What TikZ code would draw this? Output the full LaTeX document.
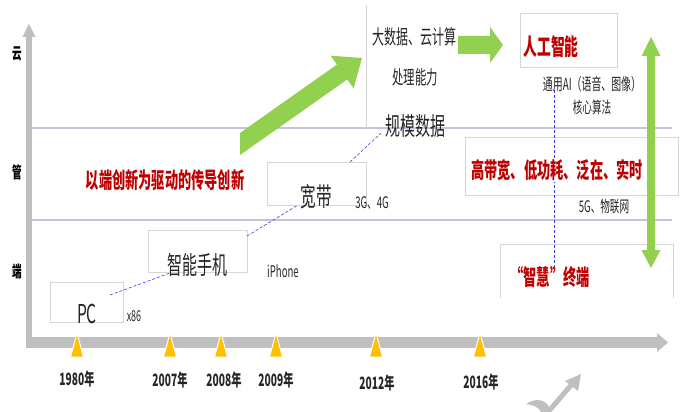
\documentclass[tikz,border=0pt]{standalone}
\usepackage{fontspec}
\setmainfont{Noto Sans CJK SC}[FakeStretch=0.6]
\newcommand{\Fz}[1]{\fontsize{#1}{#1}\selectfont}
\definecolor{axisgray}{HTML}{BFBFBF}
\definecolor{gridlav}{HTML}{C4C4DA}
\definecolor{boxgray}{HTML}{D6D6D6}
\definecolor{dashblue}{HTML}{3A3AF0}
\definecolor{darkred}{HTML}{C00000}
\definecolor{leafgreen}{HTML}{92D050}
\definecolor{triyellow}{HTML}{FFC000}
\definecolor{txtgray}{HTML}{262626}
\begin{document}
\begin{tikzpicture}[x=1pt,y=-1pt,
  box/.style={draw=boxgray, line width=0.7pt},
  conn/.style={draw=dashblue, densely dashed, line width=0.6pt},
  txt/.style={inner sep=0pt, text=txtgray},
  rtxt/.style={inner sep=1pt, text=darkred, font=\Fz{22}\bfseries},
  yr/.style={inner sep=0pt, text=txtgray, font=\Fz{17}\bfseries},
  side/.style={inner sep=0pt, text=black, font=\Fz{16}\bfseries},
  tri/.style={fill=triyellow, draw=white, line width=1pt},
  grid/.style={draw=gridlav, line width=2.5pt},
  garrow/.style={fill=leafgreen}
]
\useasboundingbox (0,0) rectangle (680,412);
\fill[white] (0,0) rectangle (680,412);

% horizontal level lines
\draw[grid] (32,128) -- (672,128);
\draw[grid] (32,220) -- (672,220);

% axes
\fill[axisgray] (26,348) rectangle (32,37);
\fill[axisgray] (22.5,37) -- (29,24) -- (35.5,37) -- cycle;
\fill[axisgray] (26,337) rectangle (658,348);
\fill[axisgray] (657,333) -- (668,342.5) -- (657,352) -- cycle;

% side labels
\node[side] (yun) at (17,54) {云};
\node[side] (guan) at (17,172) {管};
\node[side] (duan) at (17,271) {端};

% timeline triangles
\foreach \x in {77,170,221,276,376,480}
  \filldraw[tri] (\x-6.5,357) -- (\x,333) -- (\x+6.5,357) -- cycle;

% year labels
\node[yr] (y1980) at (77,379) {1980年};
\node[yr] (y2007) at (170,380) {2007年};
\node[yr] (y2008) at (224,380) {2008年};
\node[yr] (y2009) at (276,380) {2009年};
\node[yr] (y2012) at (377,383) {2012年};
\node[yr] (y2016) at (481,382) {2016年};

% boxes
\draw[box] (50,282) rectangle (123,322);
\draw[box] (148,230) rectangle (247,272);
\draw[box] (267,162) rectangle (366,205);
\draw[box] (366,5) -- (366,130);
\draw[box] (520,13) rectangle (617,67);
\draw[box] (465,137) rectangle (678,195);
\draw[box] (500,298) -- (500,244) -- (673,244) -- (673,298);

% dashed vertical link
\coordinate (aiTop) at (554,90);
\coordinate (stTop) at (554,266);
\draw[conn] (aiTop) -- (stTop);

% green arrows
\fill[garrow] (240,133) -- (336.9,64.6) -- (330.6,55.7) -- (362,58) -- (353.6,88.3) -- (347.3,79.4) -- (240,155) -- cycle;
\fill[garrow] (458,36) -- (490,36) -- (490,27) -- (503,45) -- (490,63) -- (490,54) -- (458,54) -- cycle;
\fill[garrow] (647,56) -- (641.5,56) -- (651,37) -- (660.5,56) -- (655,56) -- (655,250) -- (660.5,250) -- (651,268) -- (641.5,250) -- (647,250) -- cycle;

% texts
\node[txt, font=\Fz{26}] (pc) at (87,314) {PC};
\node[txt, font=\Fz{15}] (x86) at (134,316) {x86};
\node[txt, font=\Fz{25}] (phone) at (197,265) {智能手机};
\node[txt, font=\Fz{16}] (iphone) at (283,271) {iPhone};
\node[txt, font=\Fz{26}] (bb) at (316,197) {宽带};
\node[txt, font=\Fz{16}] (g34) at (372,203) {3G、4G};
\node[txt, font=\Fz{20}] (bd1) at (414,37) {大数据、云计算};
\node[txt, font=\Fz{19}] (bd2) at (415,77) {处理能力};
\node[txt, font=\Fz{25}] (bd3) at (415,126) {规模数据};
\node[rtxt, font=\Fz{23}\bfseries] (ai) at (551,47) {人工智能};
\node[txt, font=\Fz{16.5}] (ai1) at (592,84) {通用AI（语音、图像）};
\node[txt, font=\Fz{16}] (ai2) at (592,107) {核心算法};
\node[rtxt, fill=white] (hb) at (557,170) {高带宽、低功耗、泛在、实时};
\node[txt, font=\Fz{16}] (g5) at (604,206) {5G、物联网};
\node[rtxt] (st) at (550,277) {“智慧”终端};
\node[rtxt] (drive) at (165,180) {以端创新为驱动的传导创新};

% dashed connectors
\coordinate (c1a) at (110,295);
\coordinate (c1b) at (170,273);
\coordinate (c2a) at (247,236);
\coordinate (c2b) at (298,205);
\coordinate (c3a) at (350,162);
\coordinate (c3b) at (381,133);
\draw[conn] (c1a) -- (c1b);
\draw[conn] (c2a) -- (c2b);
\draw[conn] (c3a) -- (c3b);

% grey logo fragment
\fill[axisgray] (526,404) .. controls (536,397) and (548,399) .. (551,412) -- (541,412) .. controls (539,407) and (533,405) .. cycle;
\draw[axisgray, line width=5pt] (548,412) -- (572,384);
\fill[axisgray] (565,381) -- (581,374) -- (578,391) -- cycle;
\end{tikzpicture}
\end{document}
